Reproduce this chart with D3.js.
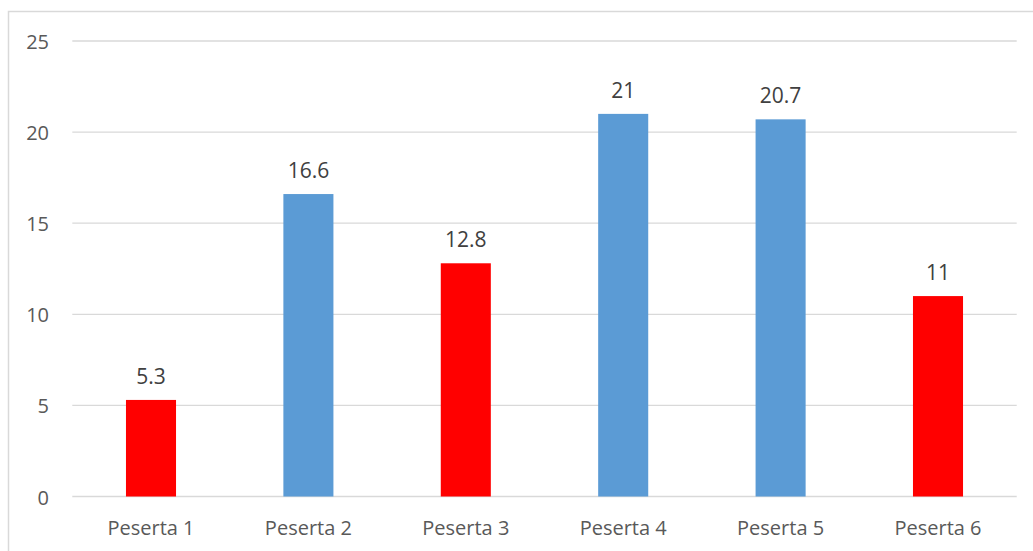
<!DOCTYPE html>
<html>
<head>
<meta charset="utf-8">
<script src="https://cdn.jsdelivr.net/npm/d3@7"></script>
<style>
  html, body { margin: 0; padding: 0; background: #fff; }
  svg { display: block; }
  text { font-family: "Open Sans", "Noto Sans", sans-serif; }
</style>
</head>
<body>
<svg id="chart" width="1033" height="551"></svg>
<script>
// Scores per participant
const categories = ["Peserta 1", "Peserta 2", "Peserta 3", "Peserta 4", "Peserta 5", "Peserta 6"];
const values = [5.3, 16.6, 12.8, 21, 20.7, 11];
const barColors = ["#ff0000", "#5b9bd5", "#ff0000", "#5b9bd5", "#5b9bd5", "#ff0000"];
const yTicks = [0, 5, 10, 15, 20, 25];

const svg = d3.select("#chart");

// Outer chart frame
svg.append("rect")
  .attr("x", 8.5).attr("y", 11.5)
  .attr("width", 1040).attr("height", 560)
  .attr("fill", "#fff")
  .attr("stroke", "#d9d9d9").attr("stroke-width", 1.5);

const plot = { left: 72.3, right: 1016.7, top: 41, bottom: 496.5 };

const x = d3.scaleBand()
  .domain(categories)
  .range([plot.left, plot.right])
  .paddingInner(0.682)
  .paddingOuter(0.341);

const y = d3.scaleLinear()
  .domain([0, 25])
  .range([plot.bottom, plot.top]);

// Horizontal gridlines
svg.append("g")
  .selectAll("line")
  .data(yTicks)
  .join("line")
  .attr("x1", plot.left).attr("x2", plot.right)
  .attr("y1", d => y(d)).attr("y2", d => y(d))
  .attr("stroke", "#d9d9d9").attr("stroke-width", 1.3);

// Y axis labels
const yAxis = d3.axisLeft(y).tickValues(yTicks).tickSize(0).tickPadding(0);
svg.append("g")
  .attr("transform", `translate(49,0)`)
  .call(yAxis)
  .call(g => g.select(".domain").remove())
  .call(g => g.selectAll("text")
    .attr("dy", null)
    .attr("dominant-baseline", "central")
    .attr("fill", "#595959")
    .style("font-size", "20px")
    .style("font-family", "'Open Sans', sans-serif"));

// Bars
svg.append("g")
  .selectAll("rect")
  .data(values)
  .join("rect")
  .attr("x", (d, i) => x(categories[i]))
  .attr("width", x.bandwidth())
  .attr("y", d => y(d))
  .attr("height", d => y(0) - y(d))
  .attr("fill", (d, i) => barColors[i]);

// Value labels above the bars
svg.append("g")
  .selectAll("text")
  .data(values)
  .join("text")
  .attr("x", (d, i) => x(categories[i]) + x.bandwidth() / 2)
  .attr("y", d => y(d) - 24)
  .attr("text-anchor", "middle")
  .attr("dominant-baseline", "central")
  .attr("fill", "#404040")
  .style("font-size", "21px")
  .text(d => d);

// Category axis labels
const xAxis = d3.axisBottom(x).tickSize(0).tickPadding(0);
svg.append("g")
  .attr("transform", `translate(0,${plot.bottom})`)
  .call(xAxis)
  .call(g => g.select(".domain").remove())
  .call(g => g.selectAll("text")
    .attr("dy", null)
    .attr("y", 31)
    .attr("dominant-baseline", "central")
    .attr("fill", "#595959")
    .style("font-size", "20px")
    .style("font-family", "'Open Sans', sans-serif"));
</script>
</body>
</html>
